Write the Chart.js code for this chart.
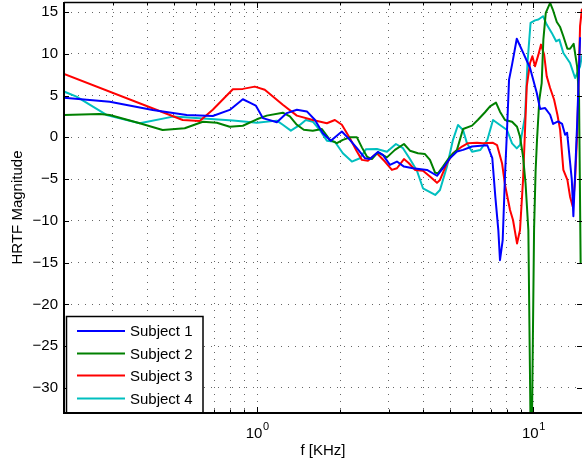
<!DOCTYPE html>
<html>
<head>
<meta charset="utf-8">
<script src="https://cdn.jsdelivr.net/npm/chart.js@4.4.0/dist/chart.umd.min.js"></script>
<style>
  html, body { margin: 0; padding: 0; background: #fff; }
</style>
</head>
<body>
<canvas id="hrtfChart" width="582" height="461"></canvas>
<script>
// frequencies in KHz, magnitudes
const freq1 = [0.2, 0.293, 0.419, 0.556, 0.691, 0.796, 0.888, 0.949, 0.989, 1.049, 1.179, 1.281, 1.393, 1.514, 1.618, 1.73, 1.849, 2.027, 2.167, 2.298, 2.456, 2.561, 2.737, 2.854, 3.026, 3.208, 3.401, 3.665, 4.121, 4.479, 4.708, 4.99, 5.29, 5.566, 5.998, 6.427, 6.813, 7.102, 7.283, 7.468, 7.572, 7.745, 7.897, 8.03, 8.166, 8.373, 8.709, 9.078, 9.728, 10.29, 10.58, 11.03, 11.5, 11.79, 12.29, 12.71, 13.03, 13.25, 13.78, 13.96, 14.4, 14.76];
const mag1 = [4.75, 4.27, 3.28, 2.68, 2.56, 3.28, 4.56, 4.1, 3.8, 2.3, 1.8, 2.9, 3.3, 3.1, 2.1, 0.5, -0.4, 0.7, -0.3, -1.3, -2.5, -2.6, -1.75, -2.1, -3.3, -2.9, -3.5, -3.7, -3.9, -4.6, -3.7, -2.5, -1.7, -1.5, -1.1, -1.0, -0.95, -2.5, -7.1, -11.1, -14.7, -12.3, -4.5, 0.9, 6.9, 8.7, 11.8, 10.5, 8.3, 5.3, 3.4, 3.5, 2.7, 1.6, 1.9, 1.6, 0.3, 0.55, -5.1, -9.45, 1.5, 11.9];

const freq2 = [0.2, 0.269, 0.293, 0.376, 0.455, 0.547, 0.636, 0.715, 0.796, 0.888, 0.998, 1.084, 1.239, 1.314, 1.393, 1.476, 1.591, 1.716, 1.834, 1.944, 2.044, 2.167, 2.298, 2.395, 2.497, 2.604, 2.737, 2.951, 3.155, 3.401, 3.575, 3.822, 4.052, 4.224, 4.412, 4.516, 4.708, 4.99, 5.29, 5.566, 5.998, 6.304, 6.683, 6.967, 7.325, 7.572, 7.897, 8.373, 8.727, 8.948, 9.177, 9.37, 9.592, 9.826, 10.06, 10.19, 10.31, 10.51, 10.72, 10.87, 11.09, 11.5, 11.76, 12.16, 12.5, 12.84, 13.28, 13.58, 13.99, 14.4, 14.64, 14.83];
const mag2 = [2.68, 2.8, 2.68, 1.68, 0.88, 1.08, 1.87, 1.75, 1.27, 1.39, 2.16, 2.6, 2.95, 2.5, 1.5, 0.9, 0.8, 1.0, -0.3, -0.7, -0.3, 0, 0, -1.2, -2.3, -2.6, -1.8, -2.4, -1.5, -0.8, -1.6, -1.9, -2.0, -2.7, -4.25, -4.3, -3.5, -2.3, -1.5, 1.0, 1.4, 2.1, 3.0, 3.7, 4.15, 3.07, 2.08, 1.87, 1.27, 0.07, -2.3, -5.5, -11.1, -42, -11, -4, -0.3, 4.5, 6.5, 11.7, 14.9, 16.1, 15.3, 13.8, 13.2, 12.1, 10.6, 10.6, 11.2, 8.5, 4.5, -15];

const freq3 = [0.2, 0.538, 0.62, 0.691, 0.817, 0.888, 0.981, 1.066, 1.239, 1.393, 1.591, 1.789, 1.912, 2.027, 2.167, 2.298, 2.395, 2.518, 2.714, 2.901, 3.076, 3.208, 3.401, 3.545, 3.728, 3.985, 4.224, 4.479, 4.592, 4.868, 5.118, 5.516, 5.8, 6.252, 6.574, 7.145, 7.387, 7.702, 7.897, 8.233, 8.44, 8.727, 8.948, 9.177, 9.465, 9.728, 9.917, 10.14, 10.43, 10.66, 10.94, 11.18, 11.5, 11.89, 12.22, 12.5, 12.84, 13.28, 13.58, 13.89, 14.16, 14.43, 14.76, 14.98];
const mag3 = [7.6, 2.07, 1.96, 3.3, 5.76, 5.8, 6.07, 5.7, 3.9, 2.6, 2.08, 1.68, 2.08, 1.5, -0.1, -1.7, -2.7, -2.8, -1.9, -2.9, -3.9, -3.7, -2.6, -3.1, -3.9, -4.0, -4.7, -5.45, -5.1, -3.1, -1.9, -1.1, -0.7, -0.65, -0.72, -0.65, -0.92, -3.1, -5.7, -8.7, -9.9, -12.7, -11.1, -5.1, 6.1, 8.9, 9.7, 8.5, 9.9, 11.1, 9.9, 7.3, 5.9, 4.5, 2.7, 0.9, -3.9, -5.1, -7.1, -8.3, -5.1, 0.9, 13.3, 15.3];

const freq4 = [0.2, 0.222, 0.285, 0.376, 0.496, 0.62, 0.817, 0.998, 1.179, 1.239, 1.325, 1.428, 1.501, 1.591, 1.687, 1.789, 1.912, 2.044, 2.203, 2.356, 2.476, 2.714, 2.951, 3.181, 3.373, 3.575, 3.79, 3.985, 4.412, 4.592, 4.868, 5.118, 5.336, 5.566, 5.752, 5.998, 6.427, 6.813, 7.145, 7.572, 8.03, 8.373, 8.709, 8.948, 9.33, 9.528, 9.77, 10.14, 10.43, 10.84, 11.18, 11.66, 12.09, 12.42, 12.84, 13.58, 14.16, 14.76, 14.98];
const mag4 = [5.48, 4.88, 2.68, 1.68, 2.48, 2.28, 2.0, 1.75, 2.0, 1.5, 0.8, 1.48, 2.08, 1.87, 0.88, -0.4, -0.53, -1.9, -2.9, -2.5, -1.44, -1.4, -1.73, -0.8, -1.3, -2.6, -4.0, -6.1, -6.9, -6.3, -3.5, -0.3, 1.48, 0.88, -0.72, -1.73, -1.52, -0.32, 2.08, 1.48, 0.88, -0.72, -1.32, -0.9, 2.5, 9, 13.7, 14.0, 14.1, 14.5, 13.5, 12.5, 11.5, 11.7, 10.1, 8.9, 7.1, 8.5, 9.7];

const subjectNames = ['Subject 1', 'Subject 2', 'Subject 3', 'Subject 4'];
const subjectColors = ['#0000ff', '#008000', '#ff0000', '#00bfbf'];
const yTicks = [-30, -25, -20, -15, -10, -5, 0, 5, 10, 15];
const xGrid = [0.3, 0.4, 0.5, 0.6, 0.7, 0.8, 0.9, 1, 2, 3, 4, 5, 6, 7, 8, 9, 10];
const xDecades = [1, 10];
const xExponents = ['0', '1'];

const FONT = '"Liberation Sans", Arial, Helvetica, sans-serif';

function minusLabel(v) {
  return v < 0 ? '\u2212' + Math.abs(v) : String(v);
}

// axes box, inward ticks, decade labels, axis titles and the legend (MATLAB look)
const matlabAxes = {
  id: 'matlabAxes',
  afterDraw(chart) {
    const ctx = chart.ctx;
    const a = chart.chartArea;
    const xs = chart.scales.x;
    const ys = chart.scales.y;
    ctx.save();
    ctx.strokeStyle = '#000';

    // ticks
    ctx.lineWidth = 1;
    ctx.beginPath();
    yTicks.forEach(v => {
      const py = Math.round(ys.getPixelForValue(v)) + 0.5;
      ctx.moveTo(a.left, py); ctx.lineTo(a.left + 5, py);
      ctx.moveTo(a.right, py); ctx.lineTo(a.right - 5, py);
    });
    xGrid.forEach(v => {
      const px = Math.round(xs.getPixelForValue(v)) + 0.5;
      const len = xDecades.includes(v) ? 6 : 3.5;
      ctx.moveTo(px, a.bottom); ctx.lineTo(px, a.bottom - len);
      ctx.moveTo(px, a.top); ctx.lineTo(px, a.top + len);
    });
    ctx.stroke();

    // frame
    ctx.lineWidth = 2;
    ctx.beginPath();
    ctx.moveTo(a.left, a.top); ctx.lineTo(a.left, a.bottom); ctx.lineTo(a.right + 2, a.bottom);
    ctx.stroke();
    ctx.lineWidth = 1.5;
    ctx.beginPath();
    ctx.moveTo(a.left, a.top + 0.5); ctx.lineTo(a.right + 2, a.top + 0.5);
    ctx.stroke();

    // decade labels 10^n
    ctx.fillStyle = '#000';
    ctx.textBaseline = 'alphabetic';
    ctx.textAlign = 'left';
    xDecades.forEach((d, i) => {
      const px = xs.getPixelForValue(d);
      ctx.font = '15px ' + FONT;
      const wBase = ctx.measureText('10').width;
      ctx.font = '11px ' + FONT;
      const wExp = ctx.measureText(xExponents[i]).width;
      const x0 = px - (wBase + wExp) / 2;
      ctx.font = '15px ' + FONT;
      ctx.fillText('10', x0, 437.5);
      ctx.font = '11px ' + FONT;
      ctx.fillText(xExponents[i], x0 + wBase + 0.5, 429.5);
    });

    // axis titles
    ctx.font = '15px ' + FONT;
    ctx.textAlign = 'center';
    ctx.fillText('f [KHz]', (a.left + a.right) / 2, 455);
    ctx.save();
    ctx.translate(22, (a.top + a.bottom) / 2);
    ctx.rotate(-Math.PI / 2);
    ctx.fillText('HRTF Magnitude', 0, 0);
    ctx.restore();

    // legend box
    const lx = 66.5, ly = 316.5, lw = 136.5, lh = a.bottom - 316.5;
    ctx.fillStyle = '#fff';
    ctx.fillRect(lx, ly, lw, lh);
    ctx.lineWidth = 1.5;
    ctx.strokeRect(lx, ly, lw, lh);
    ctx.lineWidth = 2;
    ctx.beginPath();
    ctx.moveTo(a.left, a.bottom); ctx.lineTo(lx + lw, a.bottom);
    ctx.stroke();
    const rowY = [331, 353.5, 375.5, 398.5];
    ctx.font = '15px ' + FONT;
    ctx.textAlign = 'left';
    ctx.textBaseline = 'middle';
    subjectNames.forEach((name, i) => {
      ctx.strokeStyle = subjectColors[i];
      ctx.lineWidth = 2;
      ctx.beginPath();
      ctx.moveTo(77, rowY[i]); ctx.lineTo(125, rowY[i]);
      ctx.stroke();
      ctx.fillStyle = '#000';
      ctx.fillText(name, 130, rowY[i] + 1);
    });

    ctx.restore();
  }
};

const freqs = [freq1, freq2, freq3, freq4];
const mags = [mag1, mag2, mag3, mag4];

const datasets = subjectNames.map((name, i) => ({
  label: name,
  data: freqs[i].map((f, j) => ({ x: f, y: mags[i][j] })),
  borderColor: subjectColors[i],
  borderWidth: 2,
  pointRadius: 0,
  tension: 0,
  fill: false,
  borderJoinStyle: 'round',
  borderCapStyle: 'round'
}));

const gridStyle = { color: 'rgba(0,0,0,0.6)', lineWidth: 1, drawTicks: false };

new Chart(document.getElementById('hrtfChart'), {
  type: 'line',
  data: { datasets },
  options: {
    responsive: false,
    animation: false,
    devicePixelRatio: 1,
    layout: { padding: { top: 2, right: 0, left: 0, bottom: 0 } },
    plugins: { legend: { display: false }, tooltip: { enabled: false } },
    scales: {
      x: {
        type: 'logarithmic',
        min: 0.2,
        max: 15,
        afterBuildTicks(s) { s.ticks = xGrid.map(v => ({ value: v })); },
        afterFit(s) { s.height = 48; s.paddingLeft = 0; s.paddingRight = 0; },
        ticks: { display: false },
        grid: gridStyle,
        border: { display: false, dash: [1, 6] }
      },
      y: {
        min: -33,
        max: 16.2,
        afterBuildTicks(s) { s.ticks = yTicks.map(v => ({ value: v })); },
        afterFit(s) { s.width = 64; s.paddingTop = 0; s.paddingBottom = 0; },
        ticks: {
          color: '#000',
          padding: 6,
          font: { family: FONT, size: 15 },
          callback: v => minusLabel(v)
        },
        grid: gridStyle,
        border: { display: false, dash: [1, 6] }
      }
    }
  },
  plugins: [matlabAxes]
});
</script>
</body>
</html>
